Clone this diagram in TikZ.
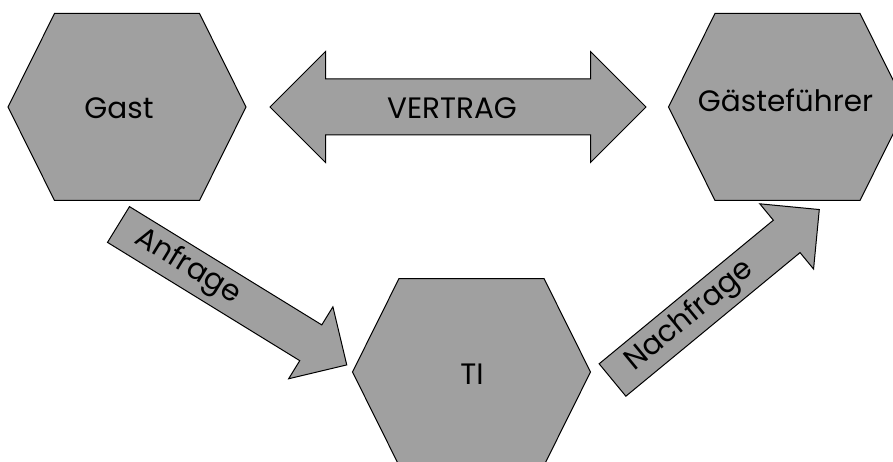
\documentclass[tikz,border=0pt]{standalone}
\usepackage{fontspec}
\setmainfont{Poppins}
\usetikzlibrary{shapes.arrows,calc}
\definecolor{hexgray}{RGB}{160,160,160}
\tikzset{hexfill/.style={fill=hexgray,draw=black,line width=1pt},
	blockarrow/.style={fill=hexgray,draw=black,line width=1pt,inner sep=0pt,outer sep=0pt,
		text height=41pt,text depth=0pt,minimum width=83.5pt,minimum height=268pt},
	word/.style={inner sep=0pt,font=\fontsize{29.5}{32}\selectfont}}
\begin{document}
\begin{tikzpicture}[x=1pt,y=-1pt]
\useasboundingbox (0,0) rectangle (893,462);
\clip (0,0) rectangle (893,462);
\foreach \nm/\cx/\cy/\lx/\ly/\txt in {gast/127/107/119/119/Gast,
	guide/787.5/107/785.5/112/Gästeführer,
	ti/471.5/372/472/384/TI}{
	\draw[hexfill] (\cx-119,\cy) -- (\cx-72.5,\cy-93.5) -- (\cx+72.5,\cy-93.5)
		-- (\cx+119,\cy) -- (\cx+72.5,\cy+93.5) -- (\cx-72.5,\cy+93.5) -- cycle;
	\node[word,anchor=base] (\nm) at (\lx,\ly) {\txt};
}
\node[blockarrow,double arrow,double arrow head extend=27.5pt,text height=55pt,
	minimum width=110pt,minimum height=376pt] (contract) at (458,107) {};
\node[word,anchor=base] (contractlabel) at (452,119) {VERTRAG};
\node[blockarrow,single arrow,single arrow head extend=21.25pt,anchor=tail,rotate=-31.6] (ask) at (118.5,224.5) {};
\node[word,rotate=-31.6,anchor=west] (asklabel) at ($(ask.tail)!22pt!(ask.tip)$) {Anfrage};
\node[blockarrow,single arrow,single arrow head extend=21.25pt,anchor=tail,rotate=39.5] (demand) at (612.5,380) {};
\node[word,rotate=39.5,anchor=west] (demandlabel) at ($(demand.tail)!22pt!(demand.tip)$) {Nachfrage};
\end{tikzpicture}
\end{document}
